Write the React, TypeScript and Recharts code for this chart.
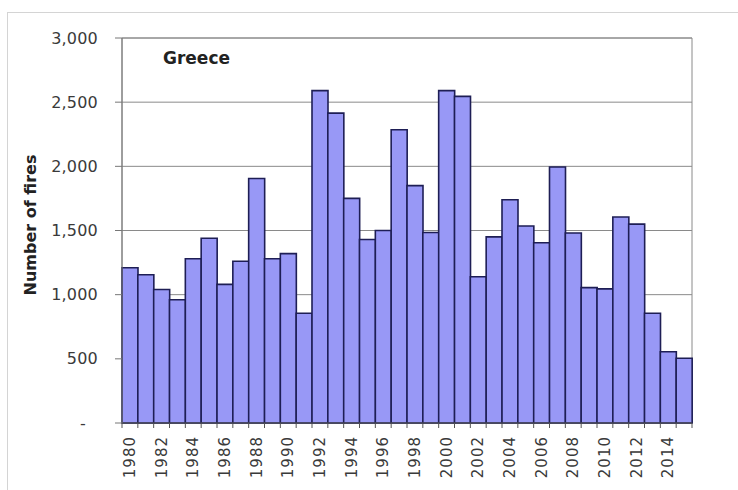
import { BarChart, Bar, XAxis, YAxis, CartesianGrid, ReferenceArea } from 'recharts';

const years = [
  '1980', '1981', '1982', '1983', '1984', '1985', '1986', '1987', '1988', '1989',
  '1990', '1991', '1992', '1993', '1994', '1995', '1996', '1997', '1998', '1999',
  '2000', '2001', '2002', '2003', '2004', '2005', '2006', '2007', '2008', '2009',
  '2010', '2011', '2012', '2013', '2014', '2015',
];

const fires = [
  1210, 1155, 1040, 960, 1280, 1440, 1080, 1260, 1905, 1280,
  1320, 855, 2590, 2415, 1750, 1430, 1500, 2285, 1850, 1485,
  2590, 2545, 1140, 1450, 1740, 1535, 1405, 1995, 1480, 1055,
  1045, 1605, 1550, 855, 555, 505,
];

const yTicks = [0, 500, 1000, 1500, 2000, 2500, 3000];

const data = years.map((year, i) => ({ year, fires: fires[i] }));

const FONT = '"DejaVu Sans", Verdana, sans-serif';

const fmt = (v: number) => (v === 0 ? '-' : v.toLocaleString('en-US'));

const YTick = ({ x, y, payload }: any) => (
  <text
    x={payload.value === 0 ? x - 12 : x}
    y={y}
    textAnchor="end"
    dominantBaseline="central"
    fontFamily={FONT}
    fontSize={16}
    letterSpacing={0.2}
    fill="#3a3a3a"
  >
    {fmt(payload.value)}
  </text>
);

// tick marks sit on the category boundaries, labels on every second year
const XTick = ({ x, y, payload, index }: any) => {
  const half = payload.offset || 0;
  const last = index === years.length - 1;
  return (
    <g>
      <line x1={x - half} x2={x - half} y1={y} y2={y + 5} stroke="#555" />
      {last && <line x1={x + half} x2={x + half} y1={y} y2={y + 5} stroke="#555" />}
      {index % 2 === 0 && (
        <text
          x={x}
          y={y + 13}
          transform={`rotate(-90 ${x} ${y + 13})`}
          textAnchor="end"
          dominantBaseline="central"
          fontFamily={FONT}
          fontSize={15}
          letterSpacing={1}
          fill="#3a3a3a"
        >
          {payload.value}
        </text>
      )}
    </g>
  );
};

const FireChart = () => {
  return (
    <div style={{ position: 'absolute', left: 0, top: 0, width: 738, height: 490, background: '#fff' }}>
      <div
        style={{
          position: 'absolute',
          left: 7,
          top: 12,
          width: 740,
          height: 490,
          border: '1px solid #d4d4d4',
        }}
      />
      <BarChart
        width={738}
        height={490}
        data={data}
        margin={{ top: 38, right: 46, bottom: 0, left: 0 }}
        barCategoryGap={0}
      >
        <ReferenceArea y1={0} y2={3000} fill="none" stroke="#8a8a8a" strokeWidth={1} ifOverflow="visible" />
        <CartesianGrid vertical={false} stroke="#8a8a8a" />
        <XAxis
          dataKey="year"
          interval={0}
          height={67}
          tickLine={false}
          tickSize={0}
          tickMargin={0}
          axisLine={{ stroke: '#555' }}
          tick={<XTick />}
        />
        <YAxis
          domain={[0, 3000]}
          ticks={yTicks}
          width={122}
          tickSize={7}
          tickMargin={17}
          axisLine={{ stroke: '#777' }}
          tickLine={{ stroke: '#777' }}
          tick={<YTick />}
        />
        <Bar dataKey="fires" fill="#9898f6" stroke="#1e1e55" strokeWidth={1.6} isAnimationActive={false} />
      </BarChart>
      <div
        style={{
          position: 'absolute',
          left: 163,
          top: 48,
          fontFamily: FONT,
          fontWeight: 'bold',
          fontSize: 17,
          color: '#222',
        }}
      >
        Greece
      </div>
      <div
        style={{
          position: 'absolute',
          left: 30,
          top: 225,
          transform: 'translate(-50%, -50%) rotate(-90deg)',
          fontFamily: FONT,
          fontWeight: 'bold',
          fontSize: 16,
          whiteSpace: 'nowrap',
          color: '#222',
        }}
      >
        Number of fires
      </div>
    </div>
  );
};

export default function App() {
  return <FireChart />;
}
